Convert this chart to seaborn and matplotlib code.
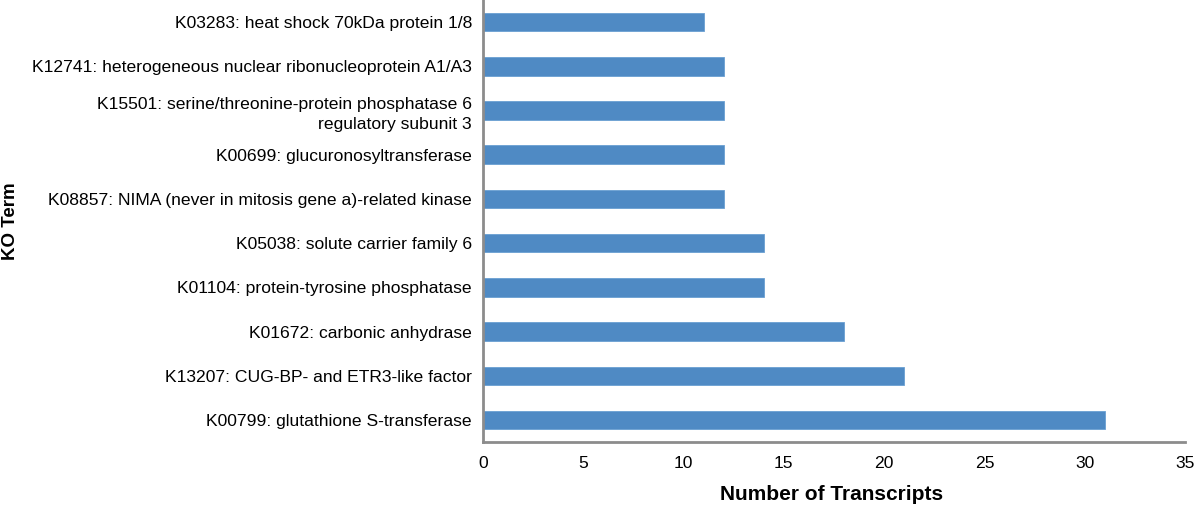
import matplotlib
matplotlib.use("Agg")
import matplotlib.pyplot as plt
import pandas as pd
import seaborn as sns

terms = [
    "K03283: heat shock 70kDa protein 1/8",
    "K12741: heterogeneous nuclear ribonucleoprotein A1/A3",
    "K15501: serine/threonine-protein phosphatase 6\nregulatory subunit 3",
    "K00699: glucuronosyltransferase",
    "K08857: NIMA (never in mitosis gene a)-related kinase",
    "K05038: solute carrier family 6",
    "K01104: protein-tyrosine phosphatase",
    "K01672: carbonic anhydrase",
    "K13207: CUG-BP- and ETR3-like factor",
    "K00799: glutathione S-transferase",
]
counts = [11, 12, 12, 12, 12, 14, 14, 18, 21, 31]
xticks = [0, 5, 10, 15, 20, 25, 30, 35]

sns.set_theme(style="white")
plt.rcParams["font.family"] = ["Liberation Sans", "DejaVu Sans"]

df = pd.DataFrame({"term": terms, "count": counts})

fig = plt.figure(figsize=(12, 5.07), dpi=100)
ax = fig.add_axes([0.4025, 0.128, 0.585, 0.872])
sns.barplot(data=df, y="term", x="count", color="#4f8ac4", width=0.42,
            saturation=1, edgecolor="#6a9fd2", linewidth=0.6, ax=ax)

ax.set_xlim(0, 35)
ax.set_ylim(len(terms) - 0.5, -0.5)
ax.set_xticks(xticks)
ax.tick_params(axis="both", length=0, labelsize=12.6, colors="black")
ax.tick_params(axis="x", pad=10)
ax.tick_params(axis="y", pad=8)
for lbl in ax.get_yticklabels():
    lbl.set_horizontalalignment("right")
    lbl.set_multialignment("right")
    lbl.set_linespacing(1.45)

ax.set_xlabel("Number of Transcripts", fontsize=15, fontweight="bold", color="black")
ax.xaxis.set_label_coords(0.496, -0.097)
ax.set_ylabel("KO Term", fontsize=13.5, fontweight="bold", color="black")
ax.yaxis.set_label_coords(-0.661, 0.5)

sns.despine(ax=ax)
for s in ("left", "bottom"):
    ax.spines[s].set_color("#8c8c8c")
    ax.spines[s].set_linewidth(2)

fig.savefig("out.png", dpi=100)
